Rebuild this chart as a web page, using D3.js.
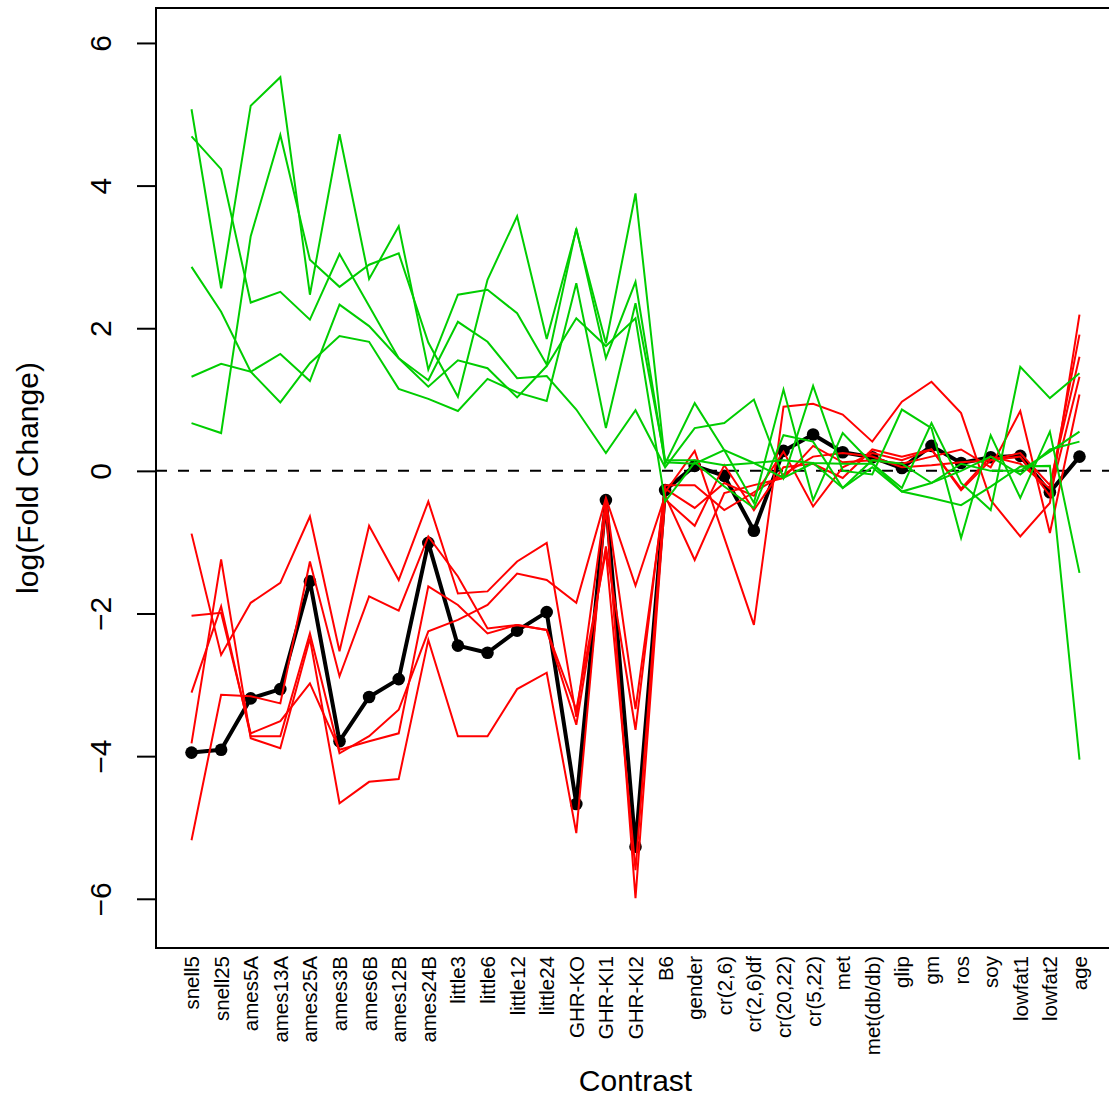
<!DOCTYPE html>
<html>
<head>
<meta charset="utf-8">
<script src="https://cdn.jsdelivr.net/npm/d3@7"></script>
<style>
body { margin: 0; background: #fff; }
text { font-family: "Liberation Sans", Arial, Helvetica, sans-serif; fill: #000; }
</style>
</head>
<body>
<svg id="chart"></svg>
<script>
// contrast names along the x axis
var categories = ["snell5","snell25","ames5A","ames13A","ames25A","ames3B","ames6B","ames12B","ames24B",
  "little3","little6","little12","little24","GHR-KO","GHR-KI1","GHR-KI2","B6","gender","cr(2,6)",
  "cr(2,6)df","cr(20,22)","cr(5,22)","met","met(db/db)","glip","gm","ros","soy","lowfat1","lowfat2","age"]

var yTicks = [-6,-4,-2,0,2,4,6]

// mean profile (black)
var meanValues = [-3.95,-3.91,-3.19,-3.06,-1.55,-3.79,-3.17,-2.92,-1.01,-2.45,-2.55,-2.24,-1.98,-4.67,-0.41,-5.27,
  -0.27,0.07,-0.07,-0.84,0.28,0.51,0.26,0.19,0.04,0.35,0.11,0.19,0.21,-0.30,0.20]

// up-regulated genes (green)
var green1 = [5.07,2.56,5.12,5.52,2.47,4.72,2.69,3.43,1.42,2.47,2.54,2.21,1.49,3.40,1.58,2.65,
  0.10,0.95,0.29,-0.45,1.14,-0.41,0.53,0.10,-0.24,0.67,-0.17,-0.55,1.46,1.02,1.37]
var green2 = [4.69,4.23,2.36,2.51,2.12,3.04,2.31,1.58,1.27,2.09,1.81,1.30,1.33,0.86,0.25,0.85,
  0.05,0.60,0.67,1.00,-0.10,1.19,0.00,-0.05,0.86,0.60,-0.94,0.50,-0.38,0.55,-1.43]
var green3 = [2.86,2.23,1.39,0.96,1.51,1.89,1.81,1.15,1.01,0.84,1.29,1.10,0.98,2.63,0.60,2.35,
  0.15,0.15,0.08,0.11,0.15,0.11,0.10,0.10,-0.29,-0.38,-0.48,-0.22,0.06,0.07,-4.05]
var green4 = [1.32,1.50,1.39,1.64,1.26,2.33,2.03,1.58,1.18,1.55,1.44,1.03,1.47,2.14,1.75,2.14,
  -0.43,0.12,-0.22,-0.52,0.50,0.41,-0.24,0.05,-0.29,-0.17,0.10,0.00,0.00,0.27,0.55]
var green5 = [0.67,0.53,3.29,4.71,2.96,2.58,2.89,3.05,1.80,1.04,2.68,3.57,1.85,3.38,1.79,3.89,
  0.12,0.10,0.29,0.11,-0.10,0.11,-0.24,0.15,0.10,-0.17,0.00,0.20,-0.05,0.30,0.41]

// down-regulated genes (red)
var red1 = [-0.88,-2.58,-1.85,-1.57,-0.64,-2.53,-0.77,-1.53,-0.43,-1.72,-1.69,-1.27,-1.01,-3.45,-0.40,-3.34,
  -0.30,0.28,-0.94,-2.16,0.90,0.94,0.79,0.41,0.97,1.25,0.81,-0.41,-0.92,-0.45,2.19]
var red2 = [-2.03,-1.99,-3.68,-3.51,-2.98,-3.91,-3.79,-3.68,-1.62,-1.88,-2.28,-2.16,-2.23,-3.35,-1.13,-5.60,
  -0.25,-0.52,-0.17,-0.35,0.27,-0.50,0.05,0.25,0.15,0.30,-0.27,0.15,0.25,-0.20,1.60]
var red3 = [-3.11,-1.90,-3.72,-3.72,-2.28,-3.96,-3.72,-3.35,-2.25,-2.09,-1.88,-1.44,-1.53,-1.85,-0.38,-1.61,
  -0.35,-1.25,-0.31,-0.20,-0.10,0.35,0.12,0.15,0.10,0.20,0.30,0.05,0.84,-0.87,1.07]
var red4 = [-3.82,-1.24,-3.75,-3.89,-2.35,-4.66,-4.36,-4.32,-2.37,-3.72,-3.72,-3.06,-2.83,-5.08,-0.50,-5.99,
  -0.40,-0.77,0.08,-0.55,0.05,0.10,-0.10,0.30,0.20,0.30,-0.25,0.20,0.10,-0.25,1.91]
var red5 = [-5.18,-3.14,-3.16,-3.26,-1.27,-2.88,-1.76,-1.96,-0.92,-1.48,-2.21,-2.16,-2.23,-3.56,-1.06,-3.63,
  -0.20,-0.20,-0.55,-0.30,-0.05,0.20,0.25,0.20,0.05,0.08,0.12,0.15,0.20,-0.35,1.32]

var greens = [green1,green2,green3,green4,green5]
var reds = [red1,red2,red3,red4,red5]

var screen = {width:1109, height:1097}
// plot box (right side runs past the picture edge, as in the original)
var box = {left:156, right:1115, top:8, bottom:948}

var svg = d3.select("#chart")
    .attr("width",screen.width)
    .attr("height",screen.height)

var xScale = d3.scalePoint()
    .domain(categories)
    .range([box.left,box.right])
    .padding(1.2)

var yScale = d3.scaleLinear()
    .domain([-6.69,6.49])
    .range([box.bottom,box.top])

var line = d3.line()
    .x(function(d,i){ return xScale(categories[i]) })
    .y(function(d){ return yScale(d) })

// dashed zero line
svg.append("line")
    .attr("x1",box.left).attr("x2",box.right)
    .attr("y1",yScale(0)).attr("y2",yScale(0))
    .attr("stroke","#000")
    .attr("stroke-width",2)
    .attr("stroke-dasharray","11,11")

// mean line and points
svg.append("path")
    .datum(meanValues)
    .attr("d",line)
    .attr("fill","none")
    .attr("stroke","#000")
    .attr("stroke-width",4)
    .attr("stroke-linejoin","round")

svg.selectAll("circle.mean")
    .data(meanValues)
    .enter()
    .append("circle")
    .classed("mean",true)
    .attr("cx",function(d,i){ return xScale(categories[i]) })
    .attr("cy",function(d){ return yScale(d) })
    .attr("r",6.3)
    .attr("fill","#000")

svg.selectAll("path.red")
    .data(reds)
    .enter()
    .append("path")
    .classed("red",true)
    .attr("d",line)
    .attr("fill","none")
    .attr("stroke","#ff0000")
    .attr("stroke-width",2)

svg.selectAll("path.green")
    .data(greens)
    .enter()
    .append("path")
    .classed("green",true)
    .attr("d",line)
    .attr("fill","none")
    .attr("stroke","#00cd00")
    .attr("stroke-width",2)

// box
svg.append("rect")
    .attr("x",box.left).attr("y",box.top)
    .attr("width",box.right-box.left)
    .attr("height",box.bottom-box.top)
    .attr("fill","none")
    .attr("stroke","#000")
    .attr("stroke-width",2)

// y axis
var yAxis = svg.append("g")
    .attr("transform","translate("+box.left+",0)")
    .call(d3.axisLeft(yScale).tickValues(yTicks).tickSize(19))
yAxis.select(".domain").remove()
yAxis.selectAll("line").attr("stroke-width",2)
yAxis.selectAll("text")
    .attr("x",null).attr("dy",null)
    .attr("text-anchor","middle")
    .attr("transform","translate(-45,0) rotate(-90)")
    .style("font-family","Liberation Sans, Arial, sans-serif")
    .style("font-size","30px")

// x axis labels
var xAxis = svg.append("g")
    .attr("transform","translate(0,"+box.bottom+")")
    .call(d3.axisBottom(xScale).tickSize(0))
xAxis.select(".domain").remove()
xAxis.selectAll("text")
    .attr("y",0).attr("dy",null)
    .attr("text-anchor","end")
    .attr("transform","translate(7,8) rotate(-90)")
    .style("font-family","Liberation Sans, Arial, sans-serif")
    .style("font-size","20.5px")

// axis titles
svg.append("text")
    .text("Contrast")
    .attr("text-anchor","middle")
    .attr("x",(box.left+box.right)/2)
    .attr("y",1091)
    .style("font-size","30px")

svg.append("g")
    .attr("transform","translate(38,"+((box.top+box.bottom)/2)+")")
    .append("text")
    .text("log(Fold Change)")
    .attr("text-anchor","middle")
    .attr("transform","rotate(-90)")
    .style("font-size","30px")
</script>
</body>
</html>
